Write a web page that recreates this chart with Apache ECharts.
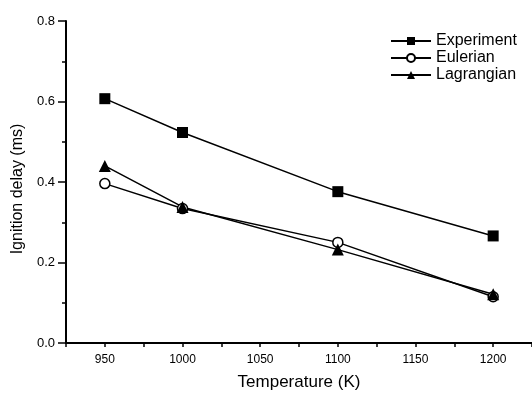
<!DOCTYPE html>
<html>
<head>
<meta charset="utf-8">
<script src="https://cdn.jsdelivr.net/npm/echarts@6/dist/echarts.min.js"></script>
<style>
html,body{margin:0;padding:0;background:#fff;}
#c{width:532px;height:394px;}
</style>
</head>
<body>
<div id="c"></div>
<script>
const temperatures = [950, 1000, 1100, 1200];
const experiment = [0.607, 0.523, 0.376, 0.266];
const eulerian = [0.396, 0.334, 0.250, 0.115];
const lagrangian = [0.440, 0.338, 0.232, 0.121];
const xTickLabels = [950, 1000, 1050, 1100, 1150, 1200];
const yTickLabels = [0.0, 0.2, 0.4, 0.6, 0.8];

const FONT = "'Liberation Sans', Arial, sans-serif";
const pairs = arr => temperatures.map((t, i) => [t, arr[i]]);

const chart = echarts.init(document.getElementById('c'), null, {renderer: 'canvas'});
const axisLine = {show: true, lineStyle: {color: '#000', width: 2}};
chart.setOption({
  animation: false,
  backgroundColor: '#fff',
  textStyle: {fontFamily: FONT},
  grid: {left: 66, right: 0, top: 21, bottom: 51, containLabel: false, outerBoundsMode: 'none'},
  legend: {
    orient: 'vertical',
    left: 385,
    top: 28,
    itemWidth: 40,
    itemHeight: 10,
    itemGap: 1,
    lineStyle: {width: 2},
    textStyle: {fontFamily: FONT, fontSize: 16, color: '#000'},
    data: ['Experiment', 'Eulerian', 'Lagrangian']
  },
  xAxis: {
    type: 'value',
    min: 925,
    max: 1225,
    interval: 25,
    name: 'Temperature (K)',
    nameLocation: 'middle',
    nameGap: 31,
    nameTextStyle: {fontFamily: FONT, fontSize: 17, color: '#000'},
    axisLine: axisLine,
    axisTick: {show: true, length: 4, inside: false, lineStyle: {color: '#000', width: 1.5}},
    axisLabel: {
      fontFamily: FONT, fontSize: 12, color: '#000', margin: 11,
      showMinLabel: true, showMaxLabel: true,
      formatter: v => xTickLabels.indexOf(v) >= 0 ? String(v) : ''
    },
    splitLine: {show: false}
  },
  yAxis: {
    type: 'value',
    min: 0,
    max: 0.8,
    interval: 0.2,
    name: 'Ignition delay (ms)',
    nameLocation: 'middle',
    nameRotate: 90,
    nameGap: 38,
    nameTextStyle: {fontFamily: FONT, fontSize: 16, color: '#000', padding: [0, 14, 0, 0]},
    axisLine: axisLine,
    axisTick: {show: true, length: 8, inside: false, lineStyle: {color: '#000', width: 1.5}},
    minorTick: {show: true, splitNumber: 2, length: 4, lineStyle: {color: '#000', width: 1.5}},
    axisLabel: {
      fontFamily: FONT, fontSize: 13, color: '#000', margin: 11,
      formatter: v => {
        const m = yTickLabels.find(t => Math.abs(t - v) < 1e-9);
        return m === undefined ? '' : m.toFixed(1);
      }
    },
    splitLine: {show: false},
    minorSplitLine: {show: false}
  },
  series: [
    {
      name: 'Experiment', type: 'line', data: pairs(experiment),
      symbol: 'rect', symbolSize: 11,
      lineStyle: {color: '#000', width: 1.5},
      itemStyle: {color: '#000', borderColor: '#000', borderWidth: 0}
    },
    {
      name: 'Eulerian', type: 'line', data: pairs(eulerian),
      symbol: 'circle', symbolSize: 10,
      lineStyle: {color: '#000', width: 1.5},
      itemStyle: {color: '#fff', borderColor: '#000', borderWidth: 1.5}
    },
    {
      name: 'Lagrangian', type: 'line', data: pairs(lagrangian),
      symbol: 'triangle', symbolSize: 12,
      lineStyle: {color: '#000', width: 1.5},
      itemStyle: {color: '#000', borderColor: '#000', borderWidth: 0}
    }
  ]
});
</script>
</body>
</html>
